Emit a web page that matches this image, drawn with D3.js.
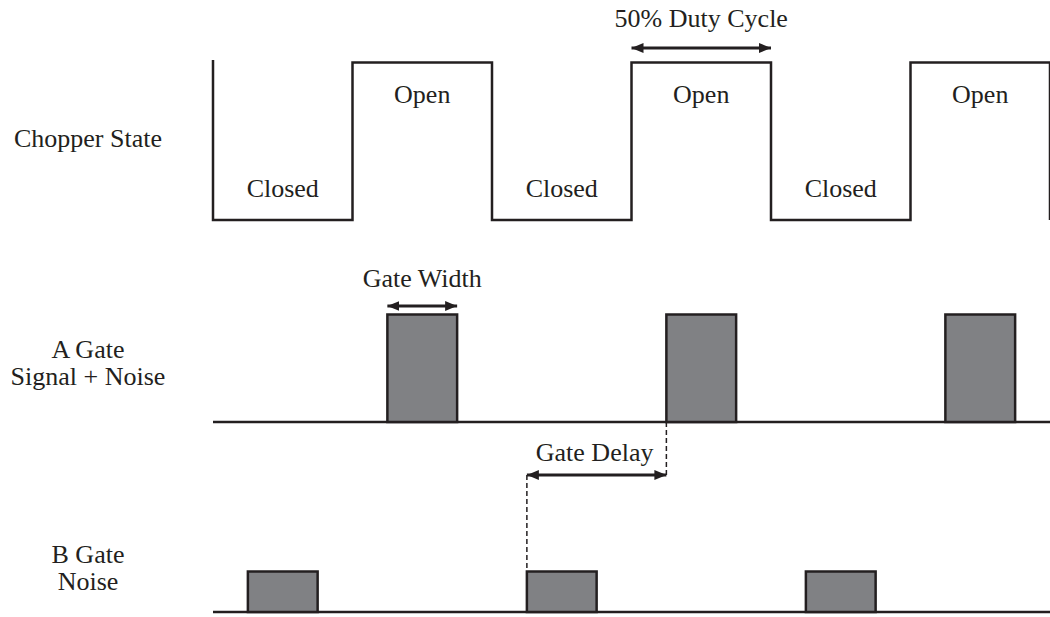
<!DOCTYPE html>
<html>
<head>
<meta charset="utf-8">
<script src="https://cdn.jsdelivr.net/npm/d3@7"></script>
<style>
  body { margin: 0; background: #fff; }
  svg text { font-family: "Liberation Serif", "Times New Roman", Times, serif; }
</style>
</head>
<body>
<div id="chart"></div>
<script>
// time is counted in half periods of the chopper
const chopperLevels = [0, 1, 0, 1, 0, 1];          // level during each half period
const chopperNames = ["Closed", "Open", "Closed", "Open", "Closed", "Open"];
const aGateStarts = [1.25, 3.25, 5.25];
const bGateStarts = [0.25, 2.25, 4.25];
const gateWidth = 0.5;
const trackLabels = [["Chopper State"], ["A Gate", "Signal + Noise"], ["B Gate", "Noise"]];

const W = 1050, H = 617;
const ink = "#231f20", gateFill = "#808184";

const svg = d3.select("#chart").append("svg")
  .attr("width", W).attr("height", H);

//all labels share one serif style
function label(x, y, t){
  return svg.append("text")
    .attr("x", x).attr("y", y)
    .attr("text-anchor", "middle")
    .attr("font-size", 26)
    .style("fill", ink)
    .text(t);
}

const defs = svg.append("defs");
["start", "end"].forEach(function(k){
  defs.append("marker")
    .attr("id", "arrow-" + k)
    .attr("viewBox", "0 0 12 10")
    .attr("refX", k == "end" ? 12 : 0).attr("refY", 5)
    .attr("markerWidth", 12).attr("markerHeight", 10)
    .attr("markerUnits", "userSpaceOnUse")
    .attr("orient", "auto")
    .append("path")
    .attr("d", k == "end" ? "M0,0L12,5L0,10Z" : "M12,0L0,5L12,10Z")
    .attr("fill", ink);
});

//Scales
let x = d3.scaleLinear().domain([0, chopperLevels.length]).range([213, 1050]);
let yChop = d3.scaleLinear().domain([0, 1]).range([220, 62.5]);
let yA = d3.scaleLinear().domain([0, 1]).range([422, 314.5]);
let yB = d3.scaleLinear().domain([0, 1]).range([612, 571.5]);

//Chopper waveform
let pts = [[x(0), yChop(1) - 2.5]];
chopperLevels.forEach(function(l, i){
  pts.push([x(i), yChop(l)]);
  pts.push([x(i + 1), yChop(l)]);
});
pts.push([x(chopperLevels.length), yChop(0)]);

svg.append("path")
  .attr("d", d3.line()(pts))
  .attr("fill", "none")
  .attr("stroke", ink)
  .attr("stroke-width", 2.5)
  .attr("stroke-linejoin", "miter");

chopperNames.forEach(function(d, i){
  label(x(i + 0.5), chopperLevels[i] ? 103 : 197, d);
});

//Gate tracks
function drawGates(starts, y){
  svg.append("line")
    .attr("x1", x(0)).attr("x2", W)
    .attr("y1", y(0)).attr("y2", y(0))
    .attr("stroke", ink).attr("stroke-width", 2.5);
  svg.selectAll(null).data(starts).enter()
    .append("rect")
    .attr("x", function(d){ return x(d); })
    .attr("y", y(1))
    .attr("width", x(gateWidth) - x(0))
    .attr("height", y(0) - y(1))
    .attr("fill", gateFill)
    .attr("stroke", ink)
    .attr("stroke-width", 2.5);
}
drawGates(aGateStarts, yA);
drawGates(bGateStarts, yB);

//Track labels
const labelY = [[147], [358, 385], [563, 590]];
trackLabels.forEach(function(lines, i){
  lines.forEach(function(t, j){
    label(88, labelY[i][j], t);
  });
});

//Annotations
function arrow(x1, x2, y){
  svg.append("line")
    .attr("x1", x1).attr("x2", x2)
    .attr("y1", y).attr("y2", y)
    .attr("stroke", ink).attr("stroke-width", 3)
    .attr("marker-start", "url(#arrow-start)")
    .attr("marker-end", "url(#arrow-end)");
}

// duty cycle over the second open half
arrow(x(3), x(4), 48);
label(x(3.5), 27, "50% Duty Cycle");

// gate width over first A gate
arrow(x(aGateStarts[0]), x(aGateStarts[0] + gateWidth), 306);
label(x(aGateStarts[0] + gateWidth / 2), 287, "Gate Width");

// gate delay between B gate and A gate
let dFrom = bGateStarts[1], dTo = aGateStarts[1], dY = 475;
svg.append("line")
  .attr("x1", x(dTo)).attr("x2", x(dTo))
  .attr("y1", yA(0)).attr("y2", dY)
  .attr("stroke", ink).attr("stroke-width", 1.5)
  .attr("stroke-dasharray", "5,3");
svg.append("line")
  .attr("x1", x(dFrom)).attr("x2", x(dFrom))
  .attr("y1", dY).attr("y2", yB(1))
  .attr("stroke", ink).attr("stroke-width", 1.5)
  .attr("stroke-dasharray", "5,3");
arrow(x(dFrom), x(dTo), dY);
label(x((dFrom + dTo) / 2) - 2, 461, "Gate Delay");
</script>
</body>
</html>
